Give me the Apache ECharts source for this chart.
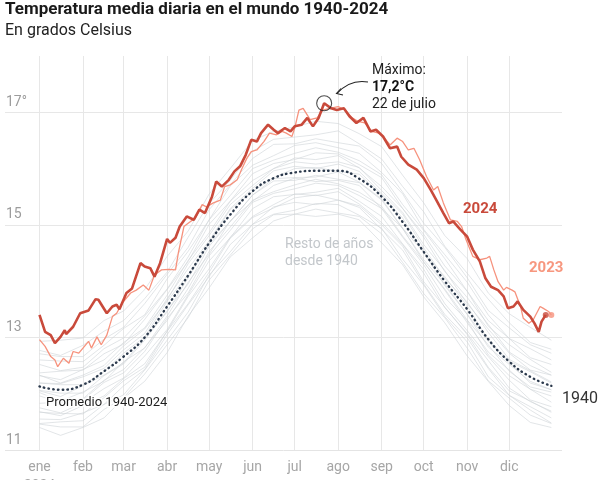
<!DOCTYPE html>
<html><head><meta charset="utf-8">
<script src="https://cdn.jsdelivr.net/npm/echarts@6/dist/echarts.min.js"></script>
<style>html,body{margin:0;padding:0;background:#fff}#c{width:600px;height:480px}</style>
</head><body><div id="c"></div>
<script>
// ---- data ----
const monthNames = ['ene','feb','mar','abr','may','jun','jul','ago','sep','oct','nov','dic'];
const monthStartDays = [0,31,60,91,121,152,182,213,244,274,305,335];
const yTickLabels = {11:'11', 13:'13', 15:'15', 17:'17°'};

const series2024 = [[0,13.40],[4,13.10],[8,13.04],[11,12.90],[15,13.01],[18,13.13],[19,13.06],[24,13.19],[29,13.43],[35,13.48],[40,13.68],[42,13.67],[48,13.43],[52,13.55],[55,13.58],[57,13.50],[62,13.79],[66,13.87],[72,14.32],[75,14.26],[79,14.23],[82,14.08],[86,14.32],[91,14.75],[93,14.68],[97,14.77],[100,14.97],[105,15.15],[110,15.09],[114,15.27],[118,15.21],[123,15.50],[126,15.77],[130,15.68],[135,15.80],[139,15.95],[143,16.04],[147,16.24],[151,16.51],[155,16.48],[158,16.63],[163,16.78],[167,16.69],[170,16.63],[175,16.72],[179,16.66],[182,16.75],[187,16.78],[191,16.90],[195,16.75],[199,16.90],[203,17.16],[208,17.07],[212,17.04],[217,17.07],[221,16.93],[226,16.81],[231,16.90],[236,16.66],[240,16.69],[245,16.57],[250,16.36],[255,16.39],[258,16.21],[263,16.07],[269,15.98],[274,15.83],[279,15.62],[283,15.44],[288,15.21],[292,15.03],[295,15.06],[300,14.92],[305,14.79],[309,14.56],[314,14.35],[318,14.05],[322,13.90],[327,13.84],[331,13.73],[334,13.52],[338,13.55],[341,13.64],[345,13.49],[350,13.37],[353,13.25],[356,13.10],[358,13.28],[361,13.40]];

const series2023 = [[0,12.96],[4,12.84],[8,12.66],[11,12.60],[13,12.48],[17,12.63],[21,12.54],[24,12.75],[28,12.72],[31,12.81],[35,12.93],[37,12.81],[41,13.01],[44,12.87],[48,13.04],[52,13.37],[55,13.43],[59,13.61],[65,13.79],[69,13.84],[74,13.93],[78,13.84],[82,14.11],[87,14.20],[92,14.21],[97,14.20],[99,14.50],[103,14.97],[106,15.03],[111,15.12],[116,15.36],[119,15.32],[124,15.39],[129,15.44],[132,15.68],[136,15.71],[141,15.80],[144,15.98],[148,16.19],[151,16.30],[155,16.33],[160,16.48],[164,16.63],[169,16.60],[173,16.66],[176,16.63],[180,16.57],[182,16.72],[185,17.04],[188,17.07],[193,16.87],[198,16.90],[202,17.04],[207,17.07],[213,17.10],[218,17.04],[223,16.90],[227,16.84],[232,16.81],[237,16.66],[242,16.63],[245,16.57],[250,16.42],[255,16.54],[259,16.48],[263,16.33],[267,16.36],[271,16.16],[276,15.86],[281,15.62],[284,15.68],[288,15.39],[293,15.09],[298,15.06],[301,14.97],[304,14.75],[309,14.44],[314,14.38],[319,14.41],[321,14.44],[324,14.20],[327,13.99],[331,13.84],[333,13.89],[337,13.84],[339,13.81],[343,13.55],[345,13.34],[349,13.25],[352,13.31],[357,13.55],[359,13.52],[363,13.46],[365,13.40]];

const restDays = [0,15,31,46,60,75,91,106,121,136,152,167,182,197,213,228,244,259,274,289,305,320,335,350,365];
const avgTemps = [12.13,12.07,12.16,12.40,12.66,13.00,13.55,14.10,14.68,15.18,15.60,15.83,15.93,15.96,15.96,15.82,15.50,15.05,14.52,14.00,13.50,12.97,12.57,12.30,12.14];
const rest1 = [11.40,11.26,11.40,11.57,11.92,12.22,12.73,13.38,13.88,14.43,14.77,15.07,15.19,15.15,15.19,15.09,14.68,14.29,13.72,13.26,12.67,12.22,11.79,11.49,11.40];
const rest2 = [11.47,11.50,11.52,11.81,11.98,12.42,12.95,13.45,14.11,14.52,15.01,15.19,15.26,15.38,15.36,15.17,14.94,14.39,13.93,13.37,12.92,12.30,11.97,11.71,11.48];
const rest3 = [11.67,11.65,11.64,11.93,12.23,12.47,13.11,13.60,14.16,14.76,15.13,15.30,15.48,15.53,15.44,15.34,15.00,14.62,13.99,13.54,13.05,12.47,12.05,11.87,11.67];
const rest4 = [11.75,11.66,11.84,12.09,12.28,12.67,13.14,13.76,14.36,14.77,15.29,15.50,15.54,15.58,15.65,15.42,15.15,14.66,14.21,13.60,13.12,12.66,12.24,11.89,11.77];
const rest5 = [11.83,11.85,11.89,12.20,12.37,12.75,13.34,13.79,14.45,14.90,15.40,15.56,15.64,15.74,15.70,15.52,15.29,14.78,14.29,13.71,13.30,12.69,12.32,12.08,11.85];
const rest6 = [12.02,11.87,12.03,12.22,12.57,12.81,13.38,13.98,14.48,15.07,15.42,15.70,15.83,15.77,15.79,15.70,15.29,14.94,14.34,13.86,13.31,12.87,12.40,12.12,12.03];
const rest7 = [12.05,11.95,12.14,12.33,12.55,12.99,13.45,14.06,14.66,15.06,15.53,15.82,15.84,15.85,15.94,15.76,15.46,14.94,14.51,13.92,13.41,12.93,12.55,12.19,12.07];
const rest8 = [12.19,12.16,12.16,12.39,12.72,13.01,13.64,14.12,14.68,15.27,15.59,15.84,16.00,16.02,15.95,15.90,15.53,15.12,14.51,14.08,13.56,12.96,12.58,12.39,12.19];
const rest9 = [12.33,12.19,12.33,12.50,12.85,13.15,13.66,14.31,14.81,15.36,15.70,16.00,16.12,16.08,16.12,16.02,15.61,15.22,14.65,14.19,13.60,13.15,12.72,12.42,12.33];
const rest10 = [12.37,12.40,12.42,12.71,12.88,13.32,13.85,14.35,15.01,15.42,15.91,16.09,16.16,16.28,16.26,16.07,15.84,15.29,14.83,14.27,13.82,13.20,12.87,12.61,12.38];
const rest11 = [12.60,12.58,12.57,12.86,13.16,13.40,14.04,14.53,15.09,15.69,16.06,16.23,16.41,16.46,16.37,16.27,15.93,15.55,14.92,14.47,13.98,13.40,12.98,12.80,12.60];
const rest12 = [12.77,12.68,12.86,13.11,13.30,13.69,14.16,14.78,15.38,15.79,16.31,16.52,16.56,16.60,16.67,16.44,16.17,15.68,15.23,14.62,14.14,13.68,13.26,12.91,12.79];
const rest13 = [12.93,12.95,12.99,13.30,13.47,13.85,14.44,14.89,15.55,16.00,16.50,16.66,16.74,16.84,16.80,16.62,16.39,15.88,15.39,14.81,14.40,13.79,13.42,13.18,12.95];
const rest14 = [11.46,11.41,11.41,11.72,11.93,12.35,12.87,13.35,14.02,14.46,14.93,15.18,15.19,15.28,15.21,15.15,14.84,14.33,13.78,13.35,12.81,12.23,11.92,11.62,11.47];
const rest15 = [11.55,11.54,11.66,11.81,12.14,12.43,13.05,13.58,14.08,14.65,15.01,15.32,15.40,15.36,15.44,15.31,14.92,14.55,13.95,13.41,12.99,12.45,11.97,11.77,11.57];
const rest16 = [11.68,11.61,11.79,11.96,12.27,12.53,13.11,13.73,14.22,14.78,15.15,15.36,15.55,15.52,15.59,15.37,15.04,14.65,14.14,13.53,13.07,12.59,12.10,11.86,11.69];
const rest17 = [11.96,11.85,11.91,12.24,12.43,12.82,13.30,13.87,14.53,14.96,15.44,15.59,15.71,15.81,15.73,15.58,15.33,14.80,14.34,13.84,13.26,12.74,12.42,12.08,11.96];
const rest18 = [12.06,12.01,12.01,12.32,12.53,12.95,13.47,13.95,14.62,15.06,15.53,15.78,15.79,15.88,15.81,15.75,15.44,14.93,14.38,13.95,13.41,12.83,12.52,12.22,12.07];
const rest19 = [12.19,12.18,12.30,12.45,12.78,13.07,13.69,14.22,14.72,15.29,15.65,15.96,16.04,16.00,16.08,15.95,15.56,15.19,14.59,14.05,13.63,13.09,12.61,12.41,12.21];
const rest20 = [12.32,12.25,12.43,12.60,12.91,13.17,13.75,14.37,14.86,15.42,15.79,16.00,16.19,16.16,16.23,16.01,15.68,15.29,14.78,14.17,13.71,13.23,12.74,12.50,12.33];
const rest21 = [12.52,12.41,12.47,12.80,12.99,13.38,13.86,14.43,15.09,15.52,16.00,16.15,16.27,16.37,16.29,16.14,15.89,15.36,14.90,14.40,13.82,13.30,12.98,12.64,12.52];
const rest22 = [12.71,12.66,12.66,12.97,13.18,13.60,14.12,14.60,15.27,15.71,16.18,16.43,16.44,16.53,16.46,16.40,16.09,15.58,15.03,14.60,14.06,13.48,13.17,12.87,12.72];
const restYears = [rest1,rest2,rest3,rest4,rest5,rest6,rest7,rest8,rest9,rest10,rest11,rest12,rest13,rest14,rest15,rest16,rest17,rest18,rest19,rest20,rest21,rest22];

// ---- chart ----
const FONT = 'Roboto';
const chart = echarts.init(document.getElementById('c'), null, {renderer:'canvas'});
const zip = (xs, ys) => xs.map((x, i) => [x, ys[i]]);

const series = [];
restYears.forEach(arr => series.push({
  type:'line', data: zip(restDays, arr), showSymbol:false, silent:true, z:1,
  lineStyle:{color:'#cfd3d6', width:0.8, opacity:0.75}
}));
series.push({
  type:'line', data: zip(restDays, avgTemps), smooth:true, showSymbol:false, silent:true, z:3,
  lineStyle:{color:'#2c3a4d', width:2.4, type:[0.5,4.2], cap:'round'}
});
series.push({
  type:'line', data: series2023, showSymbol:false, silent:true, z:4,
  lineStyle:{color:'#f6927d', width:1.3}
});
series.push({
  type:'line', data: series2024, showSymbol:false, silent:true, z:5,
  lineStyle:{color:'#c94a3b', width:2.6}
});
// end dots
series.push({type:'scatter', data:[series2023[series2023.length-1]], symbolSize:6, z:6, silent:true,
  itemStyle:{color:'#f6927d'}});
series.push({type:'scatter', data:[series2024[series2024.length-1]], symbolSize:6, z:6, silent:true,
  itemStyle:{color:'#c94a3b'}});
// maximum circle
const peak = series2024.reduce((a, b) => (b[1] > a[1] ? b : a));
series.push({type:'scatter', data:[peak], symbol:'circle', symbolSize:15, z:7, silent:true,
  itemStyle:{color:'rgba(0,0,0,0)', borderColor:'#222', borderWidth:1.1}});

const txt = (x, y, text, font, fill, extra) => ({
  type:'text', x, y, silent:true, z:100,
  style: Object.assign({text, font, fill, verticalAlign:'middle', align:'left'}, extra || {})
});

chart.setOption({
  animation:false,
  textStyle:{fontFamily:FONT},
  grid:{left:5, right:38, top:56, bottom:30, containLabel:false, outerBoundsMode:'none'},
  xAxis:{
    type:'value', min:-24.6, max:372.6,
    axisLine:{show:false},
    axisTick:{show:false, customValues: monthStartDays},
    axisLabel:{
      customValues: monthStartDays,
      formatter: v => { const i = monthStartDays.indexOf(v); return i === 0 ? monthNames[0] + '\n2024' : monthNames[i]; },
      color:'#a6a6a6', fontSize:14, fontFamily:FONT, margin:8, lineHeight:19, verticalAlign:'top'
    },
    splitLine:{show:true, lineStyle:{color:'#e7e7e7', width:1}}
  },
  yAxis:{
    type:'value', min:11, max:18, interval:1,
    axisLine:{show:false}, axisTick:{show:false},
    axisLabel:{inside:true, formatter: v => yTickLabels[v] || '', color:'#9c9c9c', fontSize:14, fontFamily:FONT,
      verticalAlign:'bottom', align:'left', margin:1, padding:[0,0,3,0]},
    splitLine:{show:true, lineStyle:{color:['#e4e4e4','rgba(0,0,0,0)','#e7e7e7','rgba(0,0,0,0)','#e7e7e7','rgba(0,0,0,0)','#e7e7e7','rgba(0,0,0,0)'], width:1}}
  },
  series,
  graphic:[
    txt(5, 10, 'Temperatura media diaria en el mundo 1940-2024', 'bold 17px ' + FONT, '#1a1a1a'),
    txt(5, 31, 'En grados Celsius', '16px ' + FONT, '#222'),
    txt(372, 70, 'Máximo:', '14px ' + FONT, '#222'),
    txt(372, 87, '17,2°C', 'bold 14px ' + FONT, '#111'),
    txt(372, 104, '22 de julio', '14px ' + FONT, '#222'),
    {type:'bezierCurve', silent:true, z:100, shape:{x1:368, y1:82, x2:337, y2:93.5, cpx1:350, cpy1:79},
      style:{stroke:'#222', lineWidth:1.1, fill:null}},
    {type:'polyline', silent:true, z:100, shape:{points:[[341,88.5],[336.5,93.5],[343,95]]},
      style:{stroke:'#222', lineWidth:1.1, fill:null}},
    txt(463, 209, '2024', 'bold 15px ' + FONT, '#c94a3b'),
    txt(529, 268, '2023', 'bold 15px ' + FONT, '#f7977f'),
    txt(562, 399, '1940', '16px ' + FONT, '#333'),
    txt(46, 403, 'Promedio 1940-2024', '13px ' + FONT, '#1e1e1e', {stroke:'#fff', lineWidth:3}),
    txt(285, 244, 'Resto de años', '14px ' + FONT, '#c3c7cb'),
    txt(285, 261, 'desde 1940', '14px ' + FONT, '#c3c7cb')
  ]
});
</script>
</body></html>
